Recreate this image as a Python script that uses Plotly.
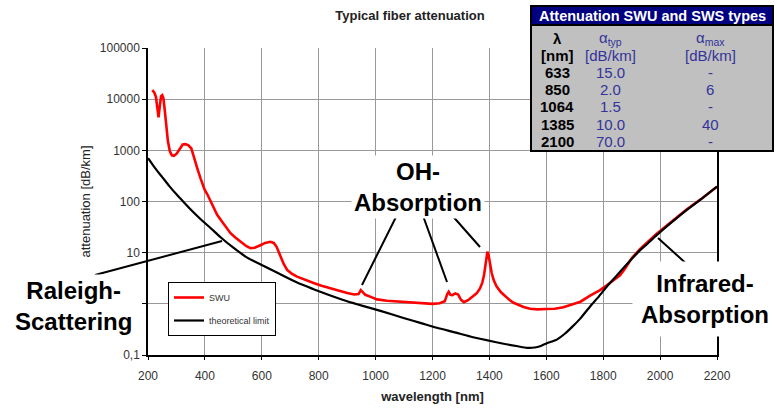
import plotly.graph_objects as go

# ---------------- data ----------------
swu_wavelength = [215, 222, 228, 233, 237, 241, 246, 250, 254, 259, 264, 270, 277, 284, 291, 300, 311, 322, 332, 342,
                  352, 362, 373, 385, 399, 408, 423, 443, 458, 475, 490, 508, 525, 545, 560, 575, 595, 612, 630, 642,
                  652, 665, 677, 689, 705, 724, 750, 782, 810, 841, 870, 900, 925, 940, 948, 955, 964, 985, 1005, 1040,
                  1082, 1110, 1141, 1170, 1200, 1225, 1243, 1252, 1257, 1263, 1270, 1280, 1290, 1300, 1310, 1325, 1340,
                  1355, 1367, 1375, 1381, 1386, 1390, 1393, 1397, 1402, 1408, 1415, 1425, 1440, 1455, 1470, 1485, 1500,
                  1520, 1543, 1570, 1600, 1630, 1660, 1690, 1720, 1754, 1789, 1813, 1836, 1859, 1877, 1900, 1930, 1960,
                  1988, 2040, 2093, 2150, 2200]
swu_attenuation = [15000, 13500, 11000, 6000, 4400, 7000, 11500, 12000, 10500, 6000, 2900, 1500, 950, 800, 780, 850,
                   1050, 1300, 1320, 1250, 1100, 750, 450, 280, 170, 140, 93, 55, 42, 31, 24, 19.5, 16.5, 13.5, 12.2,
                   12.5, 14, 15.5, 16.3, 15.5, 13, 8.4, 6, 4.6, 3.9, 3.4, 2.95, 2.55, 2.25, 2.0, 1.8, 1.62, 1.52, 1.55,
                   1.85, 1.7, 1.5, 1.35, 1.22, 1.15, 1.1, 1.08, 1.05, 1.02, 1.0, 1.03, 1.12, 1.55, 1.72, 1.5, 1.48, 1.6,
                   1.52, 1.2, 1.08, 1.18, 1.35, 1.6, 2.0, 2.6, 3.6, 6.0, 9.5, 10.5, 9.0, 6.0, 4.0, 2.9, 2.2, 1.7, 1.4,
                   1.2, 1.05, 0.96, 0.87, 0.8, 0.78, 0.79, 0.8, 0.86, 0.97, 1.1, 1.45, 1.85, 2.3, 2.85, 3.6, 4.9, 7.8,
                   11.8, 16.5, 23.5, 40, 70, 118, 195]

limit_wavelength = [200, 210, 225, 250, 275, 300, 325, 350, 375, 400, 430, 455, 500, 550, 607, 660, 724, 780,
                    841, 900, 958, 1020, 1098, 1160, 1216, 1275, 1333, 1390, 1450, 1500, 1532, 1560, 1578, 1602, 1637,
                    1665, 1690, 1720, 1754, 1785, 1813, 1840, 1871, 1900, 1930, 1960, 1988, 2040, 2093, 2150, 2200]
limit_attenuation = [700, 590, 450, 300, 200, 138, 98, 70, 51, 38, 27, 20, 12.5, 7.9, 5.5, 3.9, 2.6, 1.95,
                     1.45, 1.12, 0.9, 0.72, 0.53, 0.42, 0.34, 0.28, 0.23, 0.195, 0.166, 0.148, 0.138, 0.14, 0.148, 0.17,
                     0.2, 0.26, 0.35, 0.52, 0.89, 1.4, 2.18, 3.2, 5.0, 7.5, 11.2, 15.8, 22, 39, 68, 118, 195]

y_tick_values = [0.1, 1, 10, 100, 1000, 10000, 100000]
y_tick_labels = ["0,1", "", "10", "100", "1000", "10000", "100000"]
x_tick_values = [200, 400, 600, 800, 1000, 1200, 1400, 1600, 1800, 2000, 2200]

table_title = "Attenuation SWU and SWS types"
table_wavelength = ["633", "850", "1064", "1385", "2100"]
table_alpha_typ = ["15.0", "2.0", "1.5", "10.0", "70.0"]
table_alpha_max = ["-", "6", "-", "40", "-"]

# ---------------- layout helpers ----------------
W, H = 777, 410
L, R, T, B = 148, 717, 48, 355


def px(x):
    return (x - L) / (R - L)


def py(y):
    return (B - y) / (B - T)


FONT = "Liberation Sans, Arial, sans-serif"
NAVY_TXT = "#333399"

fig = go.Figure()
fig.add_trace(go.Scatter(x=swu_wavelength, y=swu_attenuation, mode="lines", name="SWU",
                         line=dict(color="#ff0000", width=2.6), legendgroup="a"))
fig.add_trace(go.Scatter(x=limit_wavelength, y=limit_attenuation, mode="lines", name="theoretical limit",
                         line=dict(color="#000000", width=2.2, shape="spline", smoothing=0.6), legendgroup="b"))

shapes = []
annotations = []


def note(text, x, y, font, **kw):
    d = dict(text=text, xref="paper", yref="paper", x=px(x), y=py(y), xanchor="center", yanchor="middle",
             showarrow=False, font=font)
    d.update(kw)
    annotations.append(d)


# pointer lines
pointer_lines = [((95, 275), (222, 241)),
                 ((398, 213), (362, 285)), ((422, 213), (447, 282)), ((450, 213), (480, 247)),
                 ((690, 267), (658, 238))]
for (x0, y0), (x1, y1) in pointer_lines:
    shapes.append(dict(type="line", xref="paper", yref="paper", x0=px(x0), y0=py(y0), x1=px(x1), y1=py(y1),
                       line=dict(color="black", width=2), layer="above"))

# big labels
big = dict(family=FONT, size=24, color="black")
note("<b>Raleigh-<br>Scattering</b>", 73, 306, big, align="center", bgcolor="white", borderpad=2)
note("<b>OH-<br>Absorption</b>", 418, 187, big, align="center", bgcolor="white", borderpad=2)
note("<b>Infrared-<br>Absorption</b>", 705, 299, big, align="center", bgcolor="white", borderpad=8)

# table box
shapes.append(dict(type="rect", xref="paper", yref="paper", x0=px(531), x1=px(773), y0=py(6), y1=py(151),
                   fillcolor="#c0c0c0", line=dict(color="black", width=2), layer="above"))
shapes.append(dict(type="rect", xref="paper", yref="paper", x0=px(531), x1=px(773), y0=py(6), y1=py(25),
                   fillcolor="#000080", line=dict(color="black", width=2), layer="above"))
note("<b>" + table_title + "</b>", 652, 16, dict(family=FONT, size=14.5, color="white"))

col_x = [557, 610, 710]
row_y0, row_step = 38, 17.2
hdr1 = ["<b>λ</b>", "α<sub>typ</sub>", "α<sub>max</sub>"]
hdr2 = ["<b>[nm]</b>", "[dB/km]", "[dB/km]"]
for c in range(3):
    col_color = "black" if c == 0 else NAVY_TXT
    note(hdr1[c], col_x[c], row_y0, dict(family=FONT, size=15, color=col_color))
    note(hdr2[c], col_x[c], row_y0 + row_step, dict(family=FONT, size=15, color=col_color))
for i in range(len(table_wavelength)):
    yy = row_y0 + row_step * (i + 2)
    note("<b>" + table_wavelength[i] + "</b>", col_x[0], yy, dict(family=FONT, size=15, color="black"))
    note(table_alpha_typ[i], col_x[1], yy, dict(family=FONT, size=15, color=NAVY_TXT))
    note(table_alpha_max[i], col_x[2], yy, dict(family=FONT, size=15, color=NAVY_TXT))

fig.update_layout(
    width=W, height=H,
    margin=dict(l=L, r=W - R, t=T, b=H - B, pad=0),
    paper_bgcolor="white", plot_bgcolor="white",
    font=dict(family=FONT, size=12, color="#333333"),
    title=dict(text="<b>Typical fiber attenuation</b>", x=410 / W, xref="container", xanchor="center",
               y=1 - 15 / H, yref="container", yanchor="middle", font=dict(family=FONT, size=13, color="#222222")),
    showlegend=True,
    legend=dict(x=px(168), y=py(282), xanchor="left", yanchor="top", bgcolor="white", bordercolor="black",
                borderwidth=1, font=dict(family=FONT, size=9, color="#333333"), traceorder="grouped",
                tracegroupgap=4, itemwidth=30),
    shapes=shapes,
    annotations=annotations,
)
fig.update_xaxes(range=[200, 2200], tickvals=x_tick_values, showgrid=True, gridcolor="#999999", gridwidth=1,
                 showline=True, linecolor="black", linewidth=1.5, ticks="outside", ticklen=3, tickcolor="black",
                 zeroline=False, tickfont=dict(family=FONT, size=12, color="#333333"), ticklabelstandoff=6,
                 automargin=False,
                 title=dict(text="<b>wavelength [nm]</b>", font=dict(family=FONT, size=13, color="#222222"),
                            standoff=10))
fig.update_yaxes(type="log", range=[-1, 5], tickvals=y_tick_values, ticktext=y_tick_labels, showgrid=True,
                 gridcolor="#999999", gridwidth=1, showline=True, mirror=True, linecolor="black", linewidth=1.5,
                 ticks="outside", ticklen=4, tickcolor="black", zeroline=False, automargin=False,
                 tickfont=dict(family=FONT, size=12, color="#333333"),
                 title=dict(text="attenuation [dB/km]", font=dict(family=FONT, size=13, color="#222222"),
                            standoff=6))

fig.write_html("out.html", config={"displayModeBar": False},
               post_script="document.body.style.margin='0px';")
